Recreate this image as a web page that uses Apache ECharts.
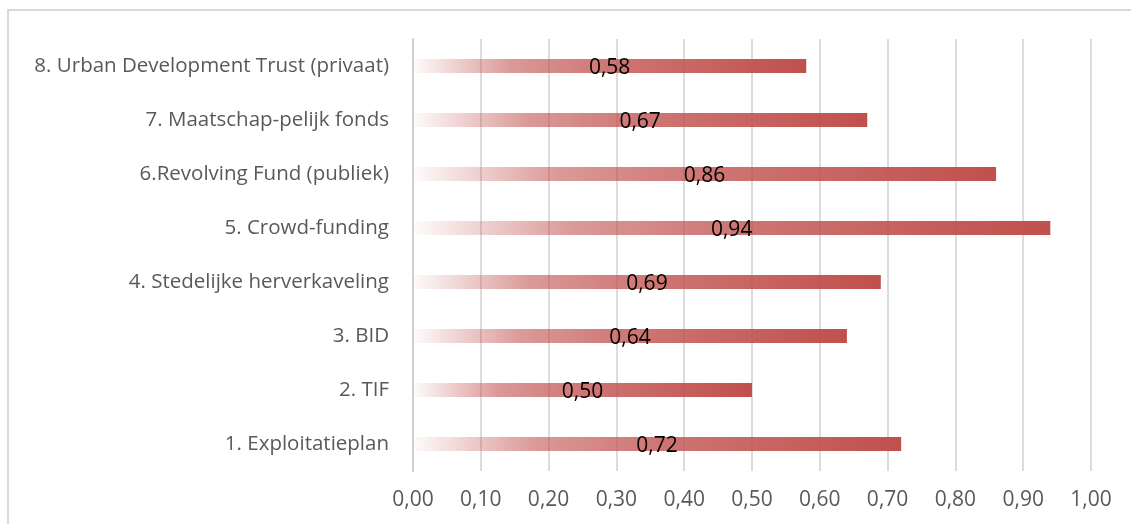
<!DOCTYPE html>
<html>
<head>
<meta charset="utf-8">
<script src="https://cdn.jsdelivr.net/npm/echarts@6/dist/echarts.min.js"></script>
<style>
  html, body { margin: 0; padding: 0; background: #ffffff; }
  #chart { width: 1131px; height: 524px; }
</style>
</head>
<body>
<div id="chart"></div>
<script>
// Financing instruments, listed bottom to top
const categories = [
  '1. Exploitatieplan',
  '2. TIF',
  '3. BID',
  '4. Stedelijke herverkaveling',
  '5. Crowd-funding',
  '6.Revolving Fund (publiek)',
  '7. Maatschap-pelijk fonds',
  '8. Urban Development Trust (privaat)'
];
const scores = [0.72, 0.50, 0.64, 0.69, 0.94, 0.86, 0.67, 0.58];
const tickMin = 0;
const tickMax = 1;
const tickStep = 0.1;

const fmt = v => v.toFixed(2).replace('.', ',');
const fontFamily = '"Open Sans", sans-serif';

const chart = echarts.init(document.getElementById('chart'), null, { renderer: 'canvas' });

chart.setOption({
  animation: false,
  backgroundColor: '#ffffff',
  graphic: [{
    type: 'rect',
    shape: { x: 8, y: 10, width: 1140, height: 530 },
    style: { fill: 'none', stroke: '#d9d9d9', lineWidth: 2 },
    silent: true,
    z: 0
  }],
  grid: { left: 413, right: 40, top: 39, bottom: 53, containLabel: false },
  xAxis: {
    type: 'value',
    min: tickMin,
    max: tickMax,
    interval: tickStep,
    axisLine: { show: false },
    axisTick: { show: false },
    axisLabel: {
      formatter: fmt,
      color: '#595959',
      fontSize: 21,
      fontFamily: fontFamily,
      margin: 19
    },
    splitLine: { show: true, lineStyle: { color: '#d0d0d0', width: 1.5 } }
  },
  yAxis: {
    type: 'category',
    data: categories,
    axisLine: { show: true, lineStyle: { color: '#d0d0d0', width: 2 } },
    axisTick: { show: false },
    axisLabel: {
      color: '#595959',
      fontSize: 20.5,
      fontFamily: fontFamily,
      margin: 24
    },
    splitLine: { show: false }
  },
  series: [{
    type: 'bar',
    data: scores,
    barWidth: 14,
    itemStyle: {
      color: new echarts.graphic.LinearGradient(0, 0, 1, 0, [
        { offset: 0, color: 'rgba(192,80,77,0.02)' },
        { offset: 0.25, color: 'rgba(192,80,77,0.58)' },
        { offset: 0.5, color: 'rgba(192,80,77,0.78)' },
        { offset: 1, color: 'rgba(192,80,77,1)' }
      ])
    },
    label: {
      show: true,
      position: 'inside',
      offset: [0, 2],
      formatter: p => fmt(p.value),
      color: '#000000',
      fontSize: 21,
      fontFamily: fontFamily
    }
  }]
});
</script>
</body>
</html>
